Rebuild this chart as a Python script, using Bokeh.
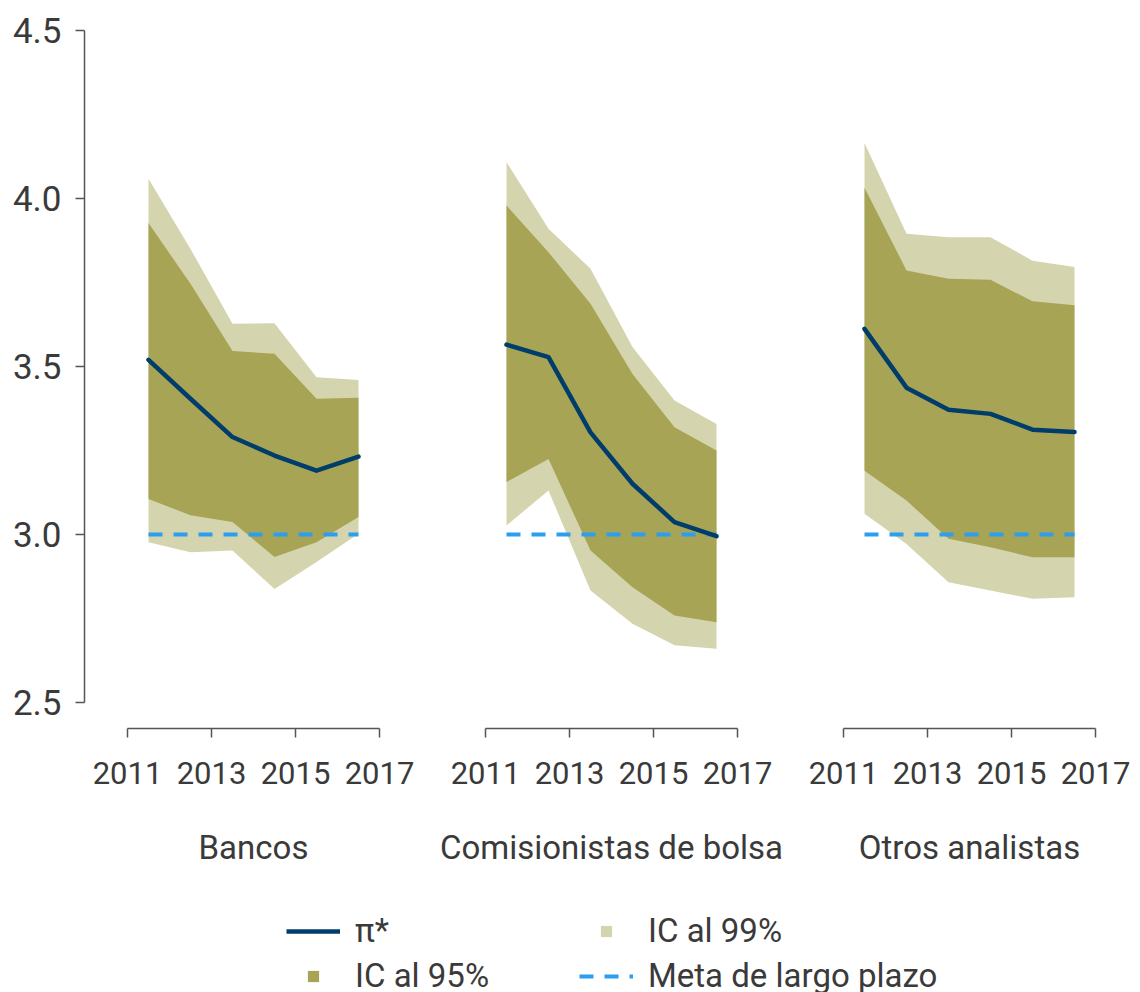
from bokeh.plotting import figure
from bokeh.layouts import row, column
from bokeh.models import Range1d, FixedTicker, PrintfTickFormatter, Legend, LegendItem
from bokeh.embed import file_html
from bokeh.resources import INLINE

# ---------------- data ----------------
years = [2011.5, 2012.5, 2013.5, 2014.5, 2015.5, 2016.5]
groups = ["Bancos", "Comisionistas de bolsa", "Otros analistas"]
x_ticks = [2011, 2013, 2015, 2017]
y_ticks = [2.5, 3.0, 3.5, 4.0, 4.5]

bancos_pi = [3.520, 3.404, 3.290, 3.235, 3.190, 3.232]
bancos_lo95 = [3.106, 3.057, 3.037, 2.933, 2.977, 3.052]
bancos_hi95 = [3.927, 3.746, 3.546, 3.538, 3.404, 3.407]
bancos_lo99 = [2.977, 2.947, 2.952, 2.838, 2.918, 3.002]
bancos_hi99 = [4.059, 3.850, 3.627, 3.629, 3.468, 3.460]

comis_pi = [3.565, 3.528, 3.304, 3.151, 3.037, 2.995]
comis_lo95 = [3.156, 3.225, 2.952, 2.843, 2.759, 2.739]
comis_hi95 = [3.979, 3.840, 3.687, 3.478, 3.319, 3.250]
comis_lo99 = [3.027, 3.131, 2.833, 2.734, 2.670, 2.660]
comis_hi99 = [4.108, 3.910, 3.791, 3.558, 3.399, 3.329]

otros_pi = [3.612, 3.437, 3.371, 3.359, 3.312, 3.305]
otros_lo95 = [3.190, 3.101, 2.987, 2.962, 2.932, 2.932]
otros_hi95 = [4.032, 3.786, 3.761, 3.758, 3.694, 3.682]
otros_lo99 = [3.062, 2.972, 2.858, 2.833, 2.809, 2.813]
otros_hi99 = [4.165, 3.895, 3.885, 3.885, 3.815, 3.796]

meta = [3.0, 3.0, 3.0, 3.0, 3.0, 3.0]

legend_labels = ["π*", "IC al 95%", "IC al 99%", "Meta de largo plazo"]

# ---------------- style ----------------
C_DARK = "#a8a455"
C_LIGHT = "#d4d4ae"
C_NAVY = "#003d6b"
C_BLUE = "#2b9ef0"
C_TEXT = "#3a3a3a"
C_AXIS = "#555555"
FONT = "Roboto"

Y0, Y1 = 2.4226, 4.5238


def make_panel(title, pi, lo95, hi95, lo99, hi99, frame_w, half, bl, br, show_y):
    p = figure(frame_width=frame_w, frame_height=706,
               min_border_left=bl, min_border_right=br,
               min_border_top=22, min_border_bottom=136,
               x_range=Range1d(2014 - half, 2014 + half),
               y_range=Range1d(Y0, Y1),
               y_axis_location="left" if show_y else None,
               output_backend="svg", toolbar_location=None, tools="")
    p.outline_line_color = None
    p.grid.visible = False
    p.background_fill_color = "white"
    p.border_fill_color = "white"

    p.varea(x=years, y1=lo99, y2=hi99, fill_color=C_LIGHT)
    p.varea(x=years, y1=lo95, y2=hi95, fill_color=C_DARK)
    p.line(x=years, y=meta, line_color=C_BLUE, line_width=4, line_dash="14 11")
    p.line(x=years, y=pi, line_color=C_NAVY, line_width=4.5,
           line_cap="round", line_join="round")

    ax = p.xaxis[0]
    ax.ticker = FixedTicker(ticks=x_ticks)
    ax.bounds = (2011, 2017)
    ax.axis_line_color = C_AXIS
    ax.axis_line_width = 1.5
    ax.major_tick_line_color = C_AXIS
    ax.major_tick_line_width = 1.5
    ax.major_tick_out = 9
    ax.major_tick_in = 0
    ax.minor_tick_out = 0
    ax.minor_tick_in = 0
    ax.major_label_text_font = FONT
    ax.major_label_text_font_size = "31px"
    ax.major_label_text_color = C_TEXT
    ax.major_label_standoff = 24
    ax.axis_label = title
    ax.axis_label_text_font = FONT
    ax.axis_label_text_font_size = "33px"
    ax.axis_label_text_font_style = "normal"
    ax.axis_label_text_color = C_TEXT
    ax.axis_label_standoff = 41

    if show_y:
        ay = p.yaxis[0]
        ay.ticker = FixedTicker(ticks=y_ticks)
        ay.bounds = (2.5, 4.5)
        ay.formatter = PrintfTickFormatter(format="%.1f")
        ay.axis_line_color = C_AXIS
        ay.axis_line_width = 1.5
        ay.major_tick_line_color = C_AXIS
        ay.major_tick_line_width = 1.5
        ay.major_tick_out = 9
        ay.major_tick_in = 0
        ay.minor_tick_out = 0
        ay.minor_tick_in = 0
        ay.major_label_text_font = FONT
        ay.major_label_text_font_size = "35px"
        ay.major_label_text_color = C_TEXT
        ay.major_label_standoff = 14
    return p


f1 = make_panel(groups[0], bancos_pi, bancos_lo95, bancos_hi95, bancos_lo99, bancos_hi99,
                338, 338 / 2 / 42, 84, 0, True)
f2 = make_panel(groups[1], comis_pi, comis_lo95, comis_hi95, comis_lo99, comis_hi99,
                300, 150 / 42, 39, 30, False)
f3 = make_panel(groups[2], otros_pi, otros_lo95, otros_hi95, otros_lo99, otros_hi99,
                300, 150 / 42, 28, 13, False)

# ---------------- legend ----------------
lf = figure(width=1132, height=128, x_range=Range1d(0, 1), y_range=Range1d(0, 1),
            x_axis_location=None, y_axis_location=None, min_border=0,
            output_backend="svg", toolbar_location=None, tools="")
lf.outline_line_color = None
lf.grid.visible = False

# legend proxies (placed outside the visible range)
proxy_x = [-5, -4]
proxy_y = [-5, -4]
r_pi = lf.line(x=proxy_x, y=proxy_y, line_color=C_NAVY, line_width=4.5)
r_95 = lf.scatter(x=proxy_x, y=proxy_y, marker="square", fill_color=C_DARK, line_color=None)
r_99 = lf.scatter(x=proxy_x, y=proxy_y, marker="square", fill_color=C_LIGHT, line_color=None)
r_meta = lf.line(x=proxy_x, y=proxy_y, line_color=C_BLUE, line_width=4, line_dash="14 11")


def make_legend(items, loc):
    lg = Legend(items=items, location=loc, orientation="vertical")
    lg.background_fill_alpha = 0
    lg.border_line_color = None
    lg.padding = 0
    lg.margin = 0
    lg.spacing = 6
    lg.glyph_width = 54
    lg.glyph_height = 28
    lg.label_height = 36
    lg.label_standoff = 15
    lg.label_text_font = FONT
    lg.label_text_font_size = "33px"
    lg.label_text_color = C_TEXT
    return lg


legA = make_legend([LegendItem(label=legend_labels[0], renderers=[r_pi]),
                    LegendItem(label=legend_labels[1], renderers=[r_95])], (286, 2))
legB = make_legend([LegendItem(label=legend_labels[2], renderers=[r_99]),
                    LegendItem(label=legend_labels[3], renderers=[r_meta])], (579, 2))
lf.add_layout(legA)
lf.add_layout(legB)

layout = column(row(f1, f2, f3), lf)

open("out.html", "w").write(file_html(layout, INLINE))
